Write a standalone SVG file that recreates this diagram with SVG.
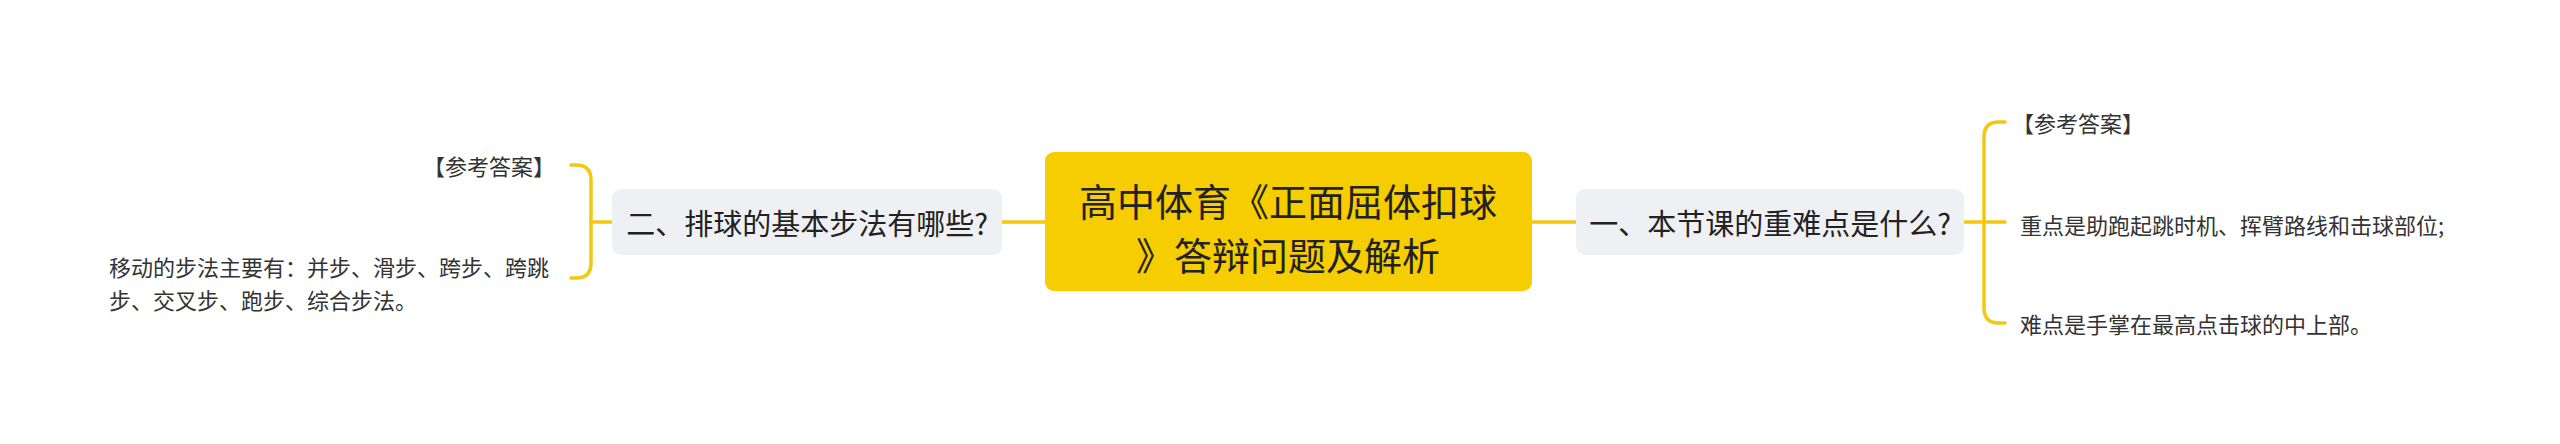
<svg xmlns="http://www.w3.org/2000/svg" width="2560" height="444" viewBox="0 0 2560 444">
<style>
text{font-family:"Noto Sans CJK SC","Noto Sans",sans-serif;fill:#333;dominant-baseline:central}
.root{font-size:38px;text-anchor:middle;fill:#222}
.topic{font-size:29px;text-anchor:middle;fill:#222}
.leaf{font-size:22px}
.line{fill:none;stroke:#f2c811;stroke-width:3.5;stroke-linecap:round}
</style>
<rect width="2560" height="444" fill="#fff"/>
<g id="connectors">
<path class="line" d="M1532 222H1576"/>
<path class="line" d="M1045 222H1002"/>
<path class="line" d="M1964 222H1984"/>
<path class="line" d="M2005 122H1999Q1984 122 1984 137V308Q1984 323 1999 323H2005"/>
<path class="line" d="M1984 222H2005"/>
<path class="line" d="M612 222H591"/>
<path class="line" d="M571 165H576Q591 165 591 180V263Q591 278 576 278H571"/>
</g>
<g id="root">
<rect x="1045" y="152" width="487" height="139" rx="9" fill="#f5cd00"/>
<text class="root" x="1288" y="199">高中体育《正面屈体扣球</text>
<text class="root" x="1288" y="253">》答辩问题及解析</text>
</g>
<g id="topic1">
<rect x="1576" y="189" width="388" height="66" rx="9" fill="#eef0f3"/>
<text class="topic" x="1770" y="222">一、本节课的重难点是什么?</text>
</g>
<g id="topic2">
<rect x="612" y="189" width="390" height="66" rx="9" fill="#eef0f3"/>
<text class="topic" x="807" y="222">二、排球的基本步法有哪些?</text>
</g>
<g id="leaf1a"><text class="leaf" x="2012" y="122">【参考答案】</text></g>
<g id="leaf1b"><text class="leaf" x="2020" y="224">重点是助跑起跳时机、挥臂路线和击球部位;</text></g>
<g id="leaf1c"><text class="leaf" x="2020" y="323">难点是手掌在最高点击球的中上部。</text></g>
<g id="leaf2a"><text class="leaf" x="555" y="165" text-anchor="end">【参考答案】</text></g>
<g id="leaf2b">
<text class="leaf" x="109" y="266">移动的步法主要有：并步、滑步、跨步、跨跳</text>
<text class="leaf" x="109" y="299">步、交叉步、跑步、综合步法。</text>
</g>
</svg>
